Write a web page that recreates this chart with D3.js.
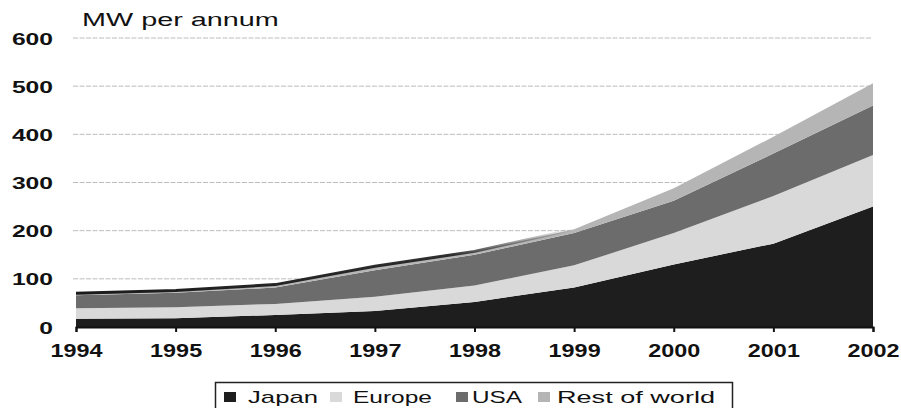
<!DOCTYPE html>
<html><head><meta charset="utf-8">
<script src="https://cdn.jsdelivr.net/npm/d3@7"></script>
<style>
html,body{margin:0;padding:0;background:#fff;}
svg{display:block;font-family:"Liberation Sans",Arial,sans-serif;}
</style></head>
<body><svg id="c" width="901" height="408"></svg>
<script>
const years = [1994,1995,1996,1997,1998,1999,2000,2001,2002];
const seriesNames = ["Japan","Europe","USA","Rest of world"];
const japan  = [17,18,25,33,52,82,130,173,250];
const europe = [22,23,23,30,34,46,65,99,107];
const usa    = [27,30,34,55,64,67,67,88,103];
const rest   = [4,5,6,8,7,8,26,35,46];
const yTicks = [0,100,200,300,400,500,600];
const yTitle = "MW per annum";

const colors = {"Japan":"#1e1e1e","Europe":"#d9d9d9","USA":"#6c6c6c","Rest of world":"#b5b5b5"};

const rows = years.map((yr,i)=>({year:yr,"Japan":japan[i],"Europe":europe[i],"USA":usa[i],"Rest of world":rest[i]}));
const svg = d3.select("#c");
const x = d3.scaleLinear().domain([1994,2002]).range([76,873]);
const y = d3.scaleLinear().domain([0,600]).range([327,38]);

function stretch(sel, k){
  sel.each(function(){
    const t=d3.select(this);
    const x0=+t.attr("x"), y0=+t.attr("y");
    t.attr("x",0).attr("y",0).attr("transform",`translate(${x0},${y0}) scale(${k},1)`);
  });
}

// gradient for the dark top edge that fades out after 1998
const defs = svg.append("defs");
const grad = defs.append("linearGradient").attr("id","edgeFade")
  .attr("gradientUnits","userSpaceOnUse")
  .attr("x1",x(1994)).attr("x2",x(1999)).attr("y1",0).attr("y2",0);
grad.append("stop").attr("offset","0%").attr("stop-color","#1a1a1a").attr("stop-opacity",1);
grad.append("stop").attr("offset","75%").attr("stop-color","#1a1a1a").attr("stop-opacity",0.9);
grad.append("stop").attr("offset","100%").attr("stop-color","#1a1a1a").attr("stop-opacity",0);

// gridlines
svg.append("g").selectAll("line").data(yTicks.filter(d=>d>0)).join("line")
  .attr("x1",73).attr("x2",872).attr("y1",d=>y(d)).attr("y2",d=>y(d))
  .attr("stroke","#bdbdbd").attr("stroke-width",1).attr("stroke-dasharray","5,1.5");

const stacked = d3.stack().keys(seriesNames)(rows);
const area = d3.area().x(d=>x(d.data.year)).y0(d=>y(d[0])).y1(d=>y(d[1]));
svg.append("g").selectAll("path").data(stacked).join("path")
  .attr("d",area).attr("fill",d=>colors[d.key]);

// dark top edge in early years
const topEdge = stacked[stacked.length-1].filter(d=>d.data.year<=1999);
svg.append("path").datum(topEdge)
  .attr("d",d3.line().x(d=>x(d.data.year)).y(d=>y(d[1])))
  .attr("fill","none").attr("stroke","url(#edgeFade)").attr("stroke-width",3);

// x axis
const xa = svg.append("g").attr("transform","translate(0,327)")
  .call(d3.axisBottom(x).tickValues(years).tickFormat(d3.format("d")).tickSize(5).tickPadding(12));
xa.select(".domain").attr("stroke","#111").attr("stroke-width",2);
xa.selectAll(".tick line").attr("stroke","#111").attr("stroke-width",2);
xa.selectAll(".tick text").attr("font-size",18).attr("font-family","Liberation Sans, Arial")
  .attr("fill","#111").attr("font-weight","bold").attr("dy","0.7em")
  .attr("transform","scale(1.3,1)");

// y axis labels
const ya = svg.append("g").attr("transform","translate(53,0)")
  .call(d3.axisLeft(y).tickValues(yTicks).tickSize(0).tickPadding(0));
ya.select(".domain").remove();
ya.selectAll(".tick text").attr("font-size",17).attr("font-family","Liberation Sans, Arial")
  .attr("fill","#111").attr("font-weight","bold").attr("dy","0.36em")
  .attr("transform","scale(1.45,1)");

// title
svg.append("text").attr("x",82).attr("y",26).text(yTitle)
  .attr("font-size",18).attr("fill","#111").call(stretch,1.6);

// legend
const lg = svg.append("g");
lg.append("rect").attr("x",215.5).attr("y",382.5).attr("width",517).attr("height",40)
  .attr("fill","#fff").attr("stroke","#222").attr("stroke-width",1.5);
const legIconX = [224,330,456,538];
const legTextX = [248,353,472,557];
const legTextW = [70,79,50,158];
const items = lg.selectAll("g.it").data(seriesNames).join("g").attr("class","it");
items.append("rect").attr("x",(d,i)=>legIconX[i]).attr("y",392).attr("width",12).attr("height",10)
  .attr("fill",d=>colors[d]);
items.append("text").attr("x",(d,i)=>legTextX[i]).attr("y",403).text(d=>d)
  .attr("font-size",17).attr("fill","#111")
  .attr("textLength",(d,i)=>legTextW[i]).attr("lengthAdjust","spacingAndGlyphs");
</script></body></html>
